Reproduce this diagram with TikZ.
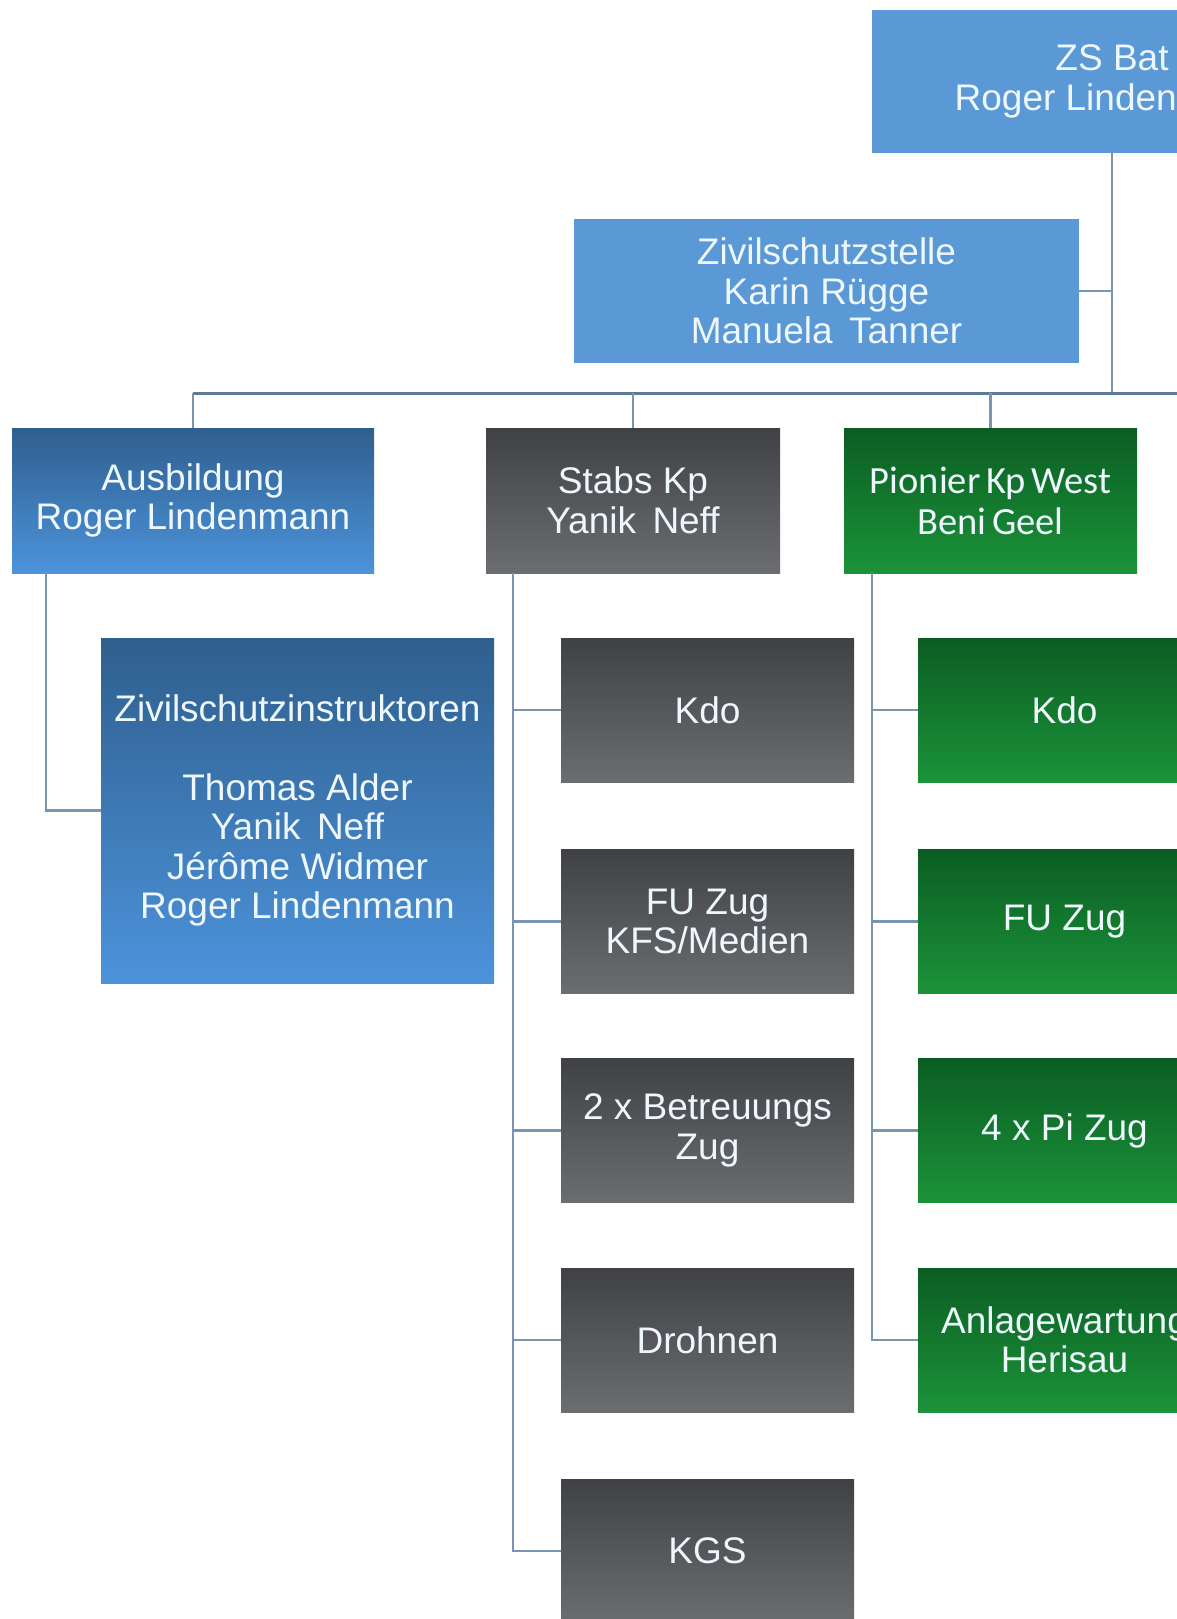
\documentclass[tikz,border=0pt]{standalone}
\usepackage{fontspec}
\setmainfont{Liberation Sans}
\newfontfamily\carl{Carlito}
\definecolor{flatblue}{HTML}{5A98D6}
\definecolor{bluetop}{HTML}{2F5F8E}
\definecolor{bluebot}{HTML}{4C93DB}
\definecolor{graytop}{HTML}{3F4145}
\definecolor{graybot}{HTML}{6B6D71}
\definecolor{greentop}{HTML}{0B5D23}
\definecolor{greenbot}{HTML}{1B9339}
\definecolor{linec}{HTML}{7896B2}
\definecolor{busc}{HTML}{5E7A95}
\definecolor{txt}{HTML}{EEF7FB}
\tikzset{
  box/.style={rectangle, inner sep=0pt, align=center, text=txt,
    font=\fontsize{37}{39.5}\selectfont},
  flatbox/.style={box, fill=flatblue},
  bluebox/.style={box, top color=bluetop, bottom color=bluebot},
  graybox/.style={box, top color=graytop, bottom color=graybot,
    minimum width=293pt, minimum height=144pt},
  greenbox/.style={box, top color=greentop, bottom color=greenbot,
    minimum width=293pt, minimum height=144pt},
  conn/.style={draw=linec, line width=2.2pt},
  busline/.style={draw=busc, line width=3pt},
}
\begin{document}
\begin{tikzpicture}[x=1pt,y=-1pt]
\useasboundingbox (0,0) rectangle (1177,1619);
\clip (0,0) rectangle (1177,1619);
\fill[white] (0,0) rectangle (1177,1619);
% top
\node[flatbox, minimum width=480pt, minimum height=143pt] (zs) at (1112,81.5) {ZS Bat\\Roger Lindenmann};
\node[flatbox, minimum width=505pt, minimum height=144pt] (zst) at (826.5,291) {Zivilschutzstelle\\Karin R\"ugge\\Manuela\, Tanner};
% second level
\node[bluebox, minimum width=362pt, minimum height=145pt] (aus) at (193,500.5) {Ausbildung\\Roger Lindenmann};
\node[graybox, minimum width=294pt, minimum height=145pt] (stabs) at (633,500.5) {Stabs Kp\\Yanik\, Neff};
\node[greenbox, minimum width=293pt, minimum height=145pt, font=\carl\fontsize{38.5}{41}\selectfont] (pion) at (990.5,500.5) {Pionier\hspace{-3pt} Kp\hspace{-3pt} West\\Beni\hspace{-3pt} Geel};
% Ausbildung child
\node[bluebox, minimum width=393pt, minimum height=345pt] (zsi) at (297.5,810.5) {Zivilschutzinstruktoren\\[39.5pt]Thomas Alder\\Yanik\, Neff\\J\'er\^ome Widmer\\Roger Lindenmann};
% Stabs children
\node[graybox] (s1) at (707.5,710) {Kdo};
\node[graybox] (s2) at (707.5,921.5) {FU Zug\\KFS/Medien};
\node[graybox] (s3) at (707.5,1130.5) {2 x Betreuungs\\Zug};
\node[graybox] (s4) at (707.5,1340) {Drohnen};
\node[graybox] (s5) at (707.5,1551) {KGS};
% Pionier children
\node[greenbox] (p1) at (1064.5,710) {Kdo};
\node[greenbox] (p2) at (1064.5,921.5) {FU Zug};
\node[greenbox] (p3) at (1064.5,1130.5) {4 x Pi Zug};
\node[greenbox] (p4) at (1064.5,1340) {Anlagewartung\\Herisau};
% connectors
\coordinate (busR) at (1200,393);
\coordinate (ausL) at (46,573);
\coordinate (stT) at (513,573);
\coordinate (piT) at (872,573);
\draw[conn] (zs.south) -- (zs.south |- busR);
\draw[conn] (zst.east) -- (zst.east -| zs.south);
\draw[busline] (aus.north |- busR) -- (busR);
\draw[conn] (aus.north |- busR) -- (aus.north);
\draw[conn] (stabs.north |- busR) -- (stabs.north);
\draw[conn] (pion.north |- busR) -- (pion.north);
\draw[conn] (ausL) |- (zsi.west);
\draw[conn] (stT) |- (s5.west);
\foreach \n in {s1,s2,s3,s4} \draw[conn] (stT |- \n.west) -- (\n.west);
\draw[conn] (piT) |- (p4.west);
\foreach \n in {p1,p2,p3} \draw[conn] (piT |- \n.west) -- (\n.west);
\end{tikzpicture}
\end{document}
